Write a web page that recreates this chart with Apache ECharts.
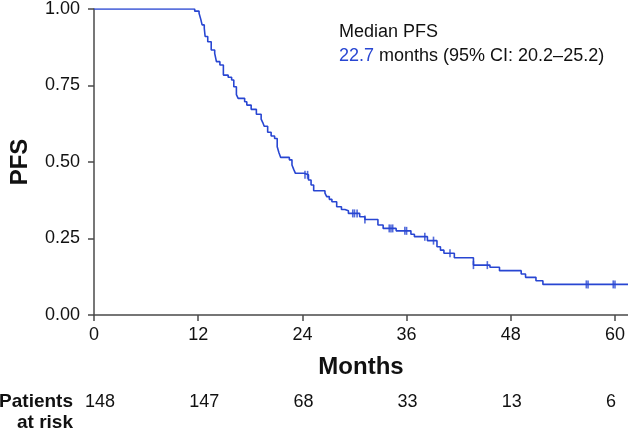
<!DOCTYPE html>
<html><head><meta charset="utf-8">
<script src="https://cdn.jsdelivr.net/npm/echarts@6/dist/echarts.min.js"></script>
<style>html,body{margin:0;padding:0;background:#fff}#c{width:628px;height:432px}</style>
</head><body><div id="c"></div>
<script>
// Kaplan–Meier step points: time (months) and PFS level from that time on
const kmTimes = [0, 11.6, 12.1, 12.3, 12.45, 12.7, 12.8, 13.1, 13.5, 13.9, 14.1, 14.5, 14.9, 15.45, 15.85, 16.1, 16.4, 16.6, 17.35, 17.6, 18.1, 18.7, 19.25, 19.45, 19.6, 20.0, 20.4, 20.8, 21.1, 21.3, 21.5, 22.5, 22.8, 23.0, 23.2, 24.2, 24.7, 25.0, 25.3, 26.6, 26.8, 27.1, 27.4, 27.95, 28.5, 28.9, 29.3, 30.6, 31.2, 32.7, 33.3, 34.8, 36.5, 36.9, 38.4, 39.5, 39.9, 40.3, 41.5, 43.7, 45.6, 46.7, 49.2, 49.7, 50.9, 51.7, 61.5];
const kmSurv  = [1.0, 0.993, 0.986, 0.966, 0.948, 0.937, 0.91, 0.893, 0.866, 0.855, 0.828, 0.817, 0.784, 0.777, 0.768, 0.746, 0.72, 0.708, 0.697, 0.686, 0.672, 0.656, 0.64, 0.628, 0.617, 0.597, 0.585, 0.577, 0.55, 0.53, 0.515, 0.507, 0.49, 0.476, 0.463, 0.458, 0.441, 0.425, 0.406, 0.398, 0.387, 0.378, 0.37, 0.354, 0.345, 0.341, 0.332, 0.321, 0.312, 0.294, 0.283, 0.275, 0.264, 0.256, 0.243, 0.223, 0.212, 0.202, 0.187, 0.163, 0.156, 0.145, 0.134, 0.123, 0.112, 0.1, 0.1];
// censored observations (months)
const censorTimes = [24.3, 24.6, 29.8, 30.0, 30.3, 31.2, 34.0, 34.2, 34.4, 35.8, 36.0, 38.1, 39.1, 41.0, 43.7, 45.3, 56.7, 56.9, 59.8, 60.0];
// x ticks and patients at risk
const xTicks = [0, 12, 24, 36, 48, 60];
const atRiskCounts = [148, 147, 68, 33, 13, 6];
const yTicks = [0, 0.25, 0.5, 0.75, 1.0];
const medianText = {title: 'Median PFS', value: '22.7', rest: ' months (95% CI: 20.2–25.2)'};

const FONT = '"Liberation Sans", Arial, sans-serif';
const BLUE = '#2846d2';
const AXIS = '#4a4a4a';

function survAt(t) {
  let s = kmSurv[0];
  for (let i = 0; i < kmTimes.length; i++) { if (kmTimes[i] <= t) s = kmSurv[i]; }
  return s;
}

const lineData = kmTimes.map((t, i) => [t, kmSurv[i]]);
const censorData = censorTimes.map(t => [t, survAt(t)]);

const chart = echarts.init(document.getElementById('c'), null, {renderer: 'canvas'});
chart.setOption({
  animation: false,
  backgroundColor: '#fff',
  textStyle: {fontFamily: FONT},
  grid: {left: 87, right: 0, top: 9, bottom: 117, containLabel: false},
  xAxis: {
    type: 'value', min: 0, max: 61.5, interval: 12,
    name: 'Months', nameLocation: 'middle', nameGap: 40,
    nameTextStyle: {fontFamily: FONT, fontSize: 24, fontWeight: 'bold', color: '#111'},
    axisLine: {show: true, lineStyle: {color: AXIS, width: 1.5}},
    axisTick: {show: true, length: 6, lineStyle: {color: AXIS, width: 1.5}, customValues: xTicks},
    axisLabel: {fontFamily: FONT, fontSize: 18, color: '#111', margin: 11, customValues: xTicks,
      formatter: v => String(v)},
    splitLine: {show: false}
  },
  yAxis: {
    type: 'value', min: 0, max: 1, interval: 0.25,
    name: 'PFS', nameLocation: 'middle', nameGap: 62, nameRotate: 90,
    nameTextStyle: {fontFamily: FONT, fontSize: 24, fontWeight: 'bold', color: '#111'},
    axisLine: {show: true, lineStyle: {color: AXIS, width: 1.5}},
    axisTick: {show: true, length: 6, lineStyle: {color: AXIS, width: 1.5}, customValues: yTicks},
    axisLabel: {fontFamily: FONT, fontSize: 18, color: '#111', margin: 14, customValues: yTicks,
      formatter: v => v.toFixed(2)},
    splitLine: {show: false}
  },
  series: [
    {type: 'line', data: lineData, step: 'end', showSymbol: false, symbol: 'none',
      lineStyle: {color: BLUE, width: 1.6}, z: 3},
    {type: 'scatter', data: censorData, symbol: 'rect', symbolSize: [1.6, 8],
      itemStyle: {color: BLUE}, z: 4}
  ]
});

const graphics = [];
xTicks.forEach((m, i) => {
  const px = chart.convertToPixel({xAxisIndex: 0}, m);
  graphics.push({type: 'text', x: px - 9, y: 402,
    style: {text: String(atRiskCounts[i]), font: '18px ' + FONT, fill: '#111',
      textAlign: 'left', textVerticalAlign: 'middle'}});
});
graphics.push({type: 'text', x: 73, y: 402,
  style: {text: 'Patients', font: 'bold 19px ' + FONT, fill: '#111', textAlign: 'right', textVerticalAlign: 'middle'}});
graphics.push({type: 'text', x: 73, y: 423,
  style: {text: 'at risk', font: 'bold 19px ' + FONT, fill: '#111', textAlign: 'right', textVerticalAlign: 'middle'}});
graphics.push({type: 'text', x: 339, y: 32,
  style: {text: medianText.title, font: '18px ' + FONT, fill: '#111', textAlign: 'left', textVerticalAlign: 'middle'}});
graphics.push({type: 'text', x: 339, y: 56,
  style: {text: '{b|' + medianText.value + '}{k|' + medianText.rest + '}',
    textAlign: 'left', textVerticalAlign: 'middle',
    rich: {b: {fontSize: 18, fontFamily: FONT, fill: BLUE, color: BLUE},
           k: {fontSize: 18, fontFamily: FONT, fill: '#111', color: '#111'}}}});
chart.setOption({graphic: graphics});
</script>
</body></html>
